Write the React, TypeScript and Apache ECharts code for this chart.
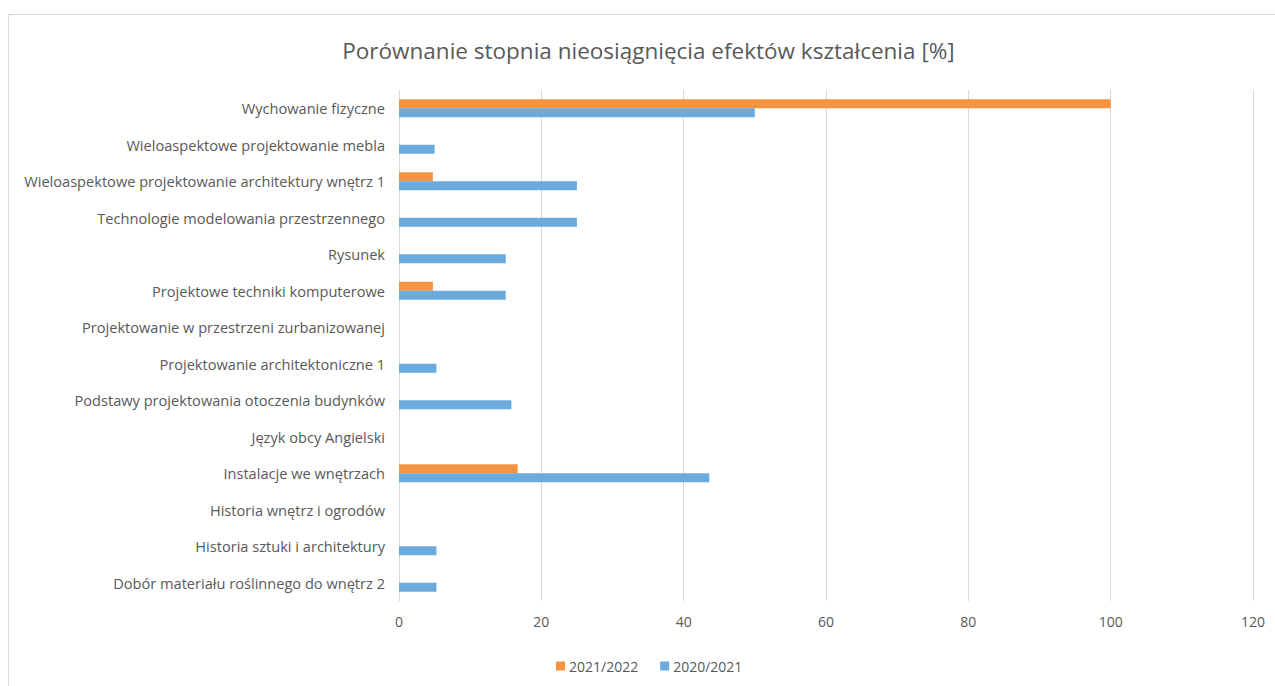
import React, { useEffect, useRef } from "react";
import * as echarts from "echarts";

const categories = [
  "Dobór materiału roślinnego do wnętrz 2",
  "Historia sztuki i architektury",
  "Historia wnętrz i ogrodów",
  "Instalacje we wnętrzach",
  "Język obcy Angielski",
  "Podstawy projektowania otoczenia budynków",
  "Projektowanie architektoniczne 1",
  "Projektowanie w przestrzeni zurbanizowanej",
  "Projektowe techniki komputerowe",
  "Rysunek",
  "Technologie modelowania przestrzennego",
  "Wieloaspektowe projektowanie architektury wnętrz 1",
  "Wieloaspektowe projektowanie mebla",
  "Wychowanie fizyczne",
];

const series2021_2022 = [0, 0, 0, 16.67, 0, 0, 0, 0, 4.76, 0, 0, 4.76, 0, 100];
const series2020_2021 = [5.26, 5.26, 0, 43.6, 0, 15.79, 5.26, 0, 15, 15, 25, 25, 5, 50];

const seriesNames = ["2021/2022", "2020/2021"];
const xTicks = { min: 0, max: 120, interval: 20 };
const titleText = "Porównanie stopnia nieosiągnięcia efektów kształcenia [%]";

const FONT = "'Open Sans', 'Noto Sans', sans-serif";

export default function App() {
  const ref = useRef<HTMLDivElement>(null);
  useEffect(() => {
    document.body.style.margin = "0";
    document.body.style.overflow = "hidden";
    if (!ref.current) return;
    const chart = echarts.init(ref.current, undefined, { renderer: "svg" });
    chart.setOption({
      animation: false,
      backgroundColor: "#ffffff",
      textStyle: { fontFamily: FONT },
      graphic: [
        {
          type: "rect",
          shape: { x: 8.5, y: 14.5, width: 1400, height: 700 },
          style: { fill: "none", stroke: "#d9d9d9", lineWidth: 1 },
          silent: true,
        },
        {
          type: "text",
          x: 648.5,
          y: 50,
          style: {
            text: titleText,
            align: "center",
            verticalAlign: "middle",
            fontFamily: FONT,
            fontSize: 22.5,
            fill: "#595959",
          },
          silent: true,
        },
      ],
      legend: {
        data: seriesNames,
        left: 556,
        top: 659,
        padding: 0,
        icon: "rect",
        itemWidth: 9,
        itemHeight: 9,
        itemGap: 22,
        textStyle: { fontFamily: FONT, fontSize: 14, color: "#595959", padding: [0, 0, 0, -1] },
      },
      grid: { left: 399, right: 22, top: 90, bottom: 85, containLabel: false },
      xAxis: {
        type: "value",
        min: xTicks.min,
        max: xTicks.max,
        interval: xTicks.interval,
        axisLine: { show: false },
        axisTick: { show: false },
        axisLabel: { color: "#595959", fontSize: 14, margin: 13, fontFamily: FONT },
        splitLine: { show: true, lineStyle: { color: "#d9d9d9", width: 1 } },
      },
      yAxis: {
        type: "category",
        data: categories,
        axisLine: { show: true, lineStyle: { color: "#d9d9d9" } },
        axisTick: { show: false },
        axisLabel: { color: "#595959", fontSize: 14.6, margin: 14, fontFamily: FONT },
        splitLine: { show: false },
      },
      series: [
        {
          name: seriesNames[0],
          type: "bar",
          data: series2021_2022,
          barWidth: 9,
          barGap: "0%",
          itemStyle: { color: "#F39443" },
        },
        {
          name: seriesNames[1],
          type: "bar",
          data: series2020_2021,
          barWidth: 9,
          barGap: "0%",
          itemStyle: { color: "#6AAADC" },
        },
      ],
    });
    return () => chart.dispose();
  }, []);
  return <div ref={ref} style={{ width: 1275, height: 686 }} />;
}
